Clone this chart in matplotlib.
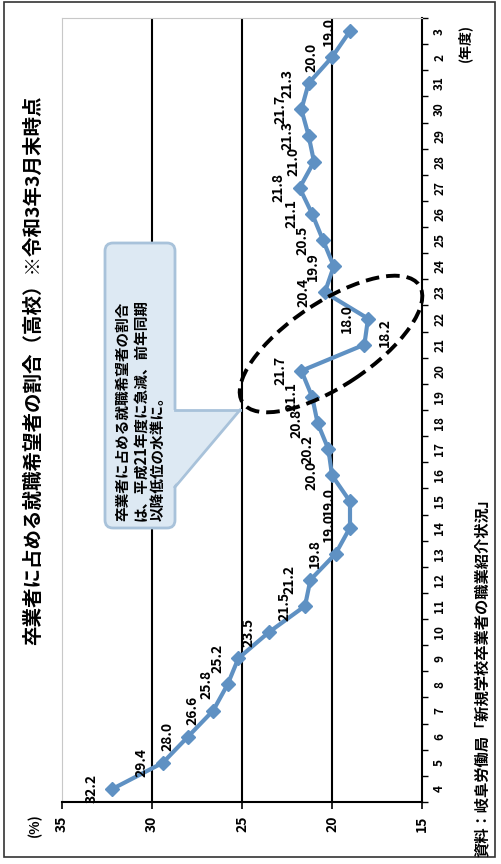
import matplotlib
matplotlib.use('Agg')
import matplotlib.pyplot as plt
from matplotlib.patches import Ellipse, FancyBboxPatch, Polygon, Rectangle
from matplotlib.lines import Line2D

plt.rcParams['font.family'] = ['Noto Sans CJK JP', 'DejaVu Sans']

# 年度（平成4年度〜令和3年度）
years = ['4', '5', '6', '7', '8', '9', '10', '11', '12', '13', '14', '15', '16', '17',
         '18', '19', '20', '21', '22', '23', '24', '25', '26', '27', '28', '29', '30',
         '31', '2', '3']
# 卒業者に占める就職希望者の割合（%）
rate = [32.2, 29.4, 28.0, 26.6, 25.8, 25.2, 23.5, 21.5, 21.2, 19.8, 19.0, 19.0, 20.0, 20.2,
        20.8, 21.1, 21.7, 18.2, 18.0, 20.4, 19.9, 20.5, 21.1, 21.8, 21.0, 21.3, 21.7,
        21.3, 20.0, 19.0]
val_ticks = [35, 30, 25, 20, 15]
grid_vals = [30, 25, 20]

title = '卒業者に占める就職希望者の割合（高校）※令和3年3月末時点'
note = '卒業者に占める就職希望者の割合\nは、平成21年度に急減、前年同期\n以降低位の水準に。'
source = '資料：岐阜労働局「新規学校卒業者の職業紹介状況」'

W, H = 501, 864
fig = plt.figure(figsize=(W / 100, H / 100), dpi=100)
ax = fig.add_axes([62 / W, 1 - 802 / H, (422 - 62) / W, (802 - 18) / H])

def inch(x, y):
    # pixel (y down) -> inches for dpi_scale_trans
    return (x / 100, (H - y) / 100)

blue = '#5f91c3'
idx = list(range(len(years)))
ax.plot(rate, idx, color=blue, lw=3, marker='D', markersize=7, zorder=3)

for i, v in enumerate(rate):
    off = (-21, 0)
    if i == 17:
        off = (20, 12)
    ax.annotate(f'{v:.1f}', (v, i), xytext=off, textcoords='offset pixels',
                rotation=90, ha='center', va='center', fontsize=10,
                fontweight='bold', zorder=4)

for g in grid_vals:
    ax.axvline(g, color='black', lw=1.5, zorder=1)

ax.set_xlim(35, 15)
ax.set_ylim(-0.5, 29.5)
ax.set_xticks(val_ticks)
ax.set_xticklabels([str(t) for t in val_ticks], rotation=90, fontsize=10, fontweight='bold')
ax.tick_params(axis='x', length=5, width=1.2, pad=5)

ax.yaxis.tick_right()
ax.set_yticks(idx)
ax.set_yticklabels(years, fontsize=8.5, fontweight='bold')
ax.set_yticks([i + 0.5 for i in range(-1, len(years))], minor=True)
ax.tick_params(axis='y', which='major', length=0, pad=8, labelrotation=90)
ax.tick_params(axis='y', which='minor', length=4, width=1, direction='out')
plt.setp(ax.get_yticklabels(), va='center')

for s in ['left', 'top']:
    ax.spines[s].set_color('#c8c8c8')
for s in ['right', 'bottom']:
    ax.spines[s].set_color('black')
    ax.spines[s].set_linewidth(1.5)

# callout
box = FancyBboxPatch(inch(105, 528), 0.70, 2.85, boxstyle='round,pad=0,rounding_size=0.08',
                     transform=fig.dpi_scale_trans, facecolor='#dde9f3', edgecolor='#a8c2da', lw=2)
fig.add_artist(box)
wedge = Polygon([inch(171, 410), inch(240, 410), inch(171, 489)], closed=True,
                transform=fig.dpi_scale_trans, facecolor='#dde9f3', edgecolor='none')
fig.add_artist(wedge)
for a, b in [((175, 410), (240, 410)), ((240, 410), (175, 487))]:
    p, q = inch(*a), inch(*b)
    fig.add_artist(Line2D([p[0], q[0]], [p[1], q[1]], transform=fig.dpi_scale_trans,
                          color='#a8c2da', lw=2))
fig.text(140 / W, 1 - 521 / H, note, rotation=90, ha='center', va='bottom',
         multialignment='left', fontsize=10.5, fontweight='bold', linespacing=1.15)

ell = Ellipse(inch(331, 344), 2.12, 0.84, angle=33.6, transform=fig.dpi_scale_trans,
              fill=False, edgecolor='black', lw=2.8, linestyle=(0, (3.5, 1.8)))
fig.add_artist(ell)

# texts
fig.text(33 / W, 1 - 645 / H, title, rotation=90, ha='center', va='bottom',
         fontsize=14, fontweight='bold')
fig.text(35 / W, 1 - 825 / H, '(%)', rotation=90, ha='center', va='center',
         fontsize=10, fontweight='bold')
fig.text(465 / W, 1 - 43 / H, '(年度)', rotation=90, ha='center', va='center',
         fontsize=10, fontweight='bold')
fig.text(482 / W, 1 - 857 / H, source, rotation=90, ha='center', va='bottom',
         fontsize=11, fontweight='bold')

fig.add_artist(Rectangle(inch(4, 857), 4.91, 8.55, transform=fig.dpi_scale_trans,
                         fill=False, edgecolor='#333333', lw=1.2))

fig.savefig('out.png', dpi=100)
